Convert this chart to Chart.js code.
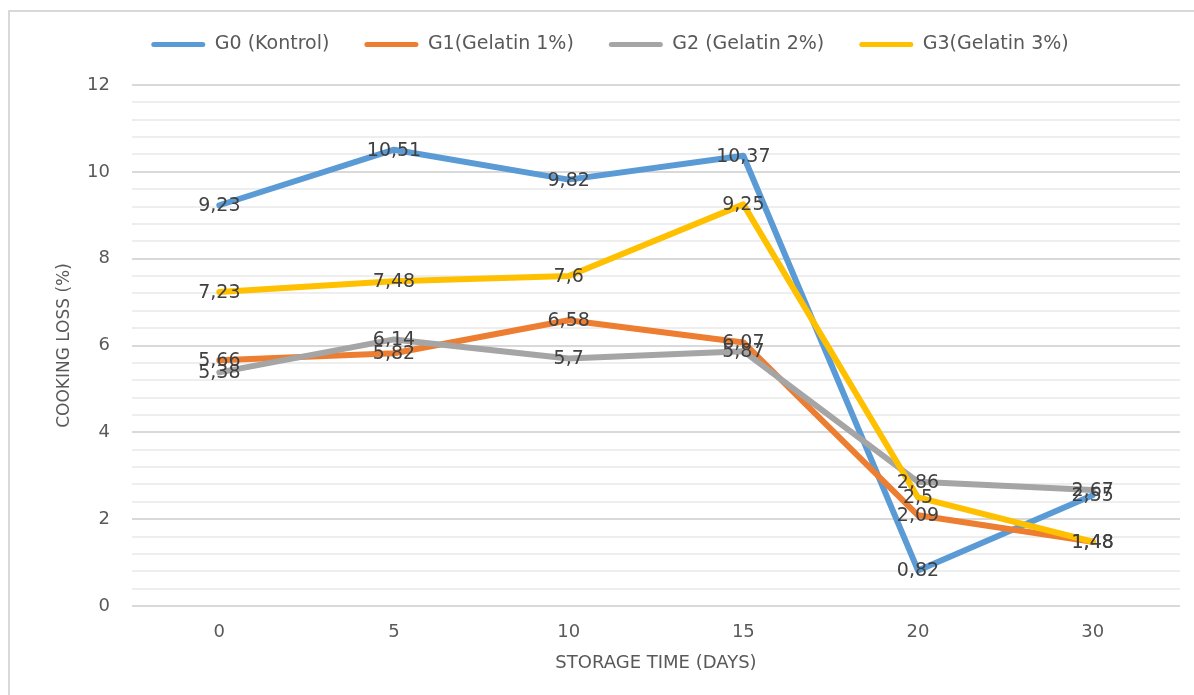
<!DOCTYPE html>
<html>
<head>
<meta charset="utf-8">
<title>Cooking loss during storage</title>
<script src="https://cdn.jsdelivr.net/npm/chart.js@4.4.1/dist/chart.umd.min.js"></script>
<style>
  html, body { margin: 0; padding: 0; background: #ffffff; overflow: hidden; }
  #wrap { position: relative; width: 1194px; height: 695px; }
  #frame {
    position: absolute; left: 8px; top: 10px; width: 1300px; height: 800px;
    border-left: 2px solid #d9d9d9; border-top: 2px solid #d9d9d9;
  }
  canvas { position: absolute; left: 0; top: 0; }
</style>
</head>
<body>
<div id="wrap">
  <div id="frame"></div>
  <canvas id="chart" width="1194" height="695"></canvas>
</div>
<script>
// Storage days (category axis)
const storageDays = ['0', '5', '10', '15', '20', '30'];

// Series names
const seriesNames = ['G0 (Kontrol)', 'G1(Gelatin 1%)', 'G2 (Gelatin 2%)', 'G3(Gelatin 3%)'];

// Cooking loss (%) per treatment
const g0Kontrol = [9.23, 10.51, 9.82, 10.37, 0.82, 2.55];
const g1Gelatin1 = [5.66, 5.82, 6.58, 6.07, 2.09, 1.48];
const g2Gelatin2 = [5.38, 6.14, 5.70, 5.87, 2.86, 2.67];
const g3Gelatin3 = [7.23, 7.48, 7.60, 9.25, 2.50, 1.48];

// Labelled y-axis ticks; each interval is split into 5 minor gridlines
const yMajorTicks = [0, 2, 4, 6, 8, 10, 12];
const minorPerMajor = 5;

const seriesColors = ['#5B9BD5', '#ED7D31', '#A5A5A5', '#FFC000'];

const FONT = '"DejaVu Sans", "Open Sans", sans-serif';
const AXIS_GREY = '#595959';

const yGridValues = [];
for (let i = 0; i < yMajorTicks.length; i++) {
  yGridValues.push(yMajorTicks[i]);
  if (i < yMajorTicks.length - 1) {
    const step = (yMajorTicks[i + 1] - yMajorTicks[i]) / minorPerMajor;
    for (let k = 1; k < minorPerMajor; k++) {
      yGridValues.push(Math.round((yMajorTicks[i] + k * step) * 1000) / 1000);
    }
  }
}
const isMajor = v => yMajorTicks.some(m => Math.abs(m - v) < 1e-6);

const seriesValues = [g0Kontrol, g1Gelatin1, g2Gelatin2, g3Gelatin3];

const datasets = seriesValues.map((vals, i) => ({
  label: seriesNames[i],
  data: vals,
  borderColor: seriesColors[i],
  backgroundColor: seriesColors[i],
  borderWidth: 6,
  borderCapStyle: 'round',
  borderJoinStyle: 'round',
  pointRadius: 0,
  pointHoverRadius: 0,
  tension: 0,
  fill: false,
  // later series are painted over earlier ones
  order: seriesValues.length - 1 - i
}));

// Value labels centred on every point, comma as decimal separator
const valueLabels = {
  id: 'valueLabels',
  afterDatasetsDraw(chart) {
    const ctx = chart.ctx;
    ctx.save();
    ctx.font = '19px ' + FONT;
    ctx.fillStyle = '#404040';
    ctx.textAlign = 'center';
    ctx.textBaseline = 'middle';
    chart.data.datasets.forEach((ds, i) => {
      const meta = chart.getDatasetMeta(i);
      meta.data.forEach((pt, j) => {
        const txt = String(ds.data[j]).replace('.', ',');
        ctx.fillText(txt, pt.x, pt.y + 1);
      });
    });
    ctx.restore();
  }
};

// Reserve room between the legend row and the plot
const legendSpace = {
  id: 'legendSpace',
  beforeInit(chart) {
    const lg = chart.legend;
    if (!lg) return;
    const fit = lg.fit;
    lg.fit = function () {
      fit.call(this);
      this.height = 85;
    };
  }
};

new Chart(document.getElementById('chart'), {
  type: 'line',
  data: { labels: storageDays, datasets },
  options: {
    responsive: false,
    animation: false,
    devicePixelRatio: 1,
    layout: { padding: { left: 40, right: 14, top: 0, bottom: 0 } },
    plugins: {
      tooltip: { enabled: false },
      legend: {
        display: true,
        position: 'top',
        labels: {
          boxWidth: 54,
          boxHeight: 5,
          padding: 35,
          color: AXIS_GREY,
          font: { family: FONT, size: 19 },
          generateLabels(chart) {
            return chart.data.datasets.map((ds, i) => ({
              text: ds.label,
              fillStyle: ds.borderColor,
              strokeStyle: ds.borderColor,
              lineWidth: 0,
              borderRadius: 2.5,
              fontColor: AXIS_GREY,
              hidden: false,
              datasetIndex: i
            }));
          }
        }
      }
    },
    scales: {
      x: {
        offset: true,
        grid: { display: false, drawTicks: false },
        border: { display: false },
        ticks: { color: AXIS_GREY, font: { family: FONT, size: 18 }, padding: 16 },
        title: {
          display: true,
          text: 'STORAGE TIME (DAYS)',
          color: AXIS_GREY,
          font: { family: FONT, size: 18 },
          padding: { top: 0, bottom: 21 }
        },
        afterFit(scale) { scale.height = 89; }
      },
      y: {
        min: 0,
        max: 12,
        afterBuildTicks(scale) {
          scale.ticks = yGridValues.map(v => ({ value: v }));
        },
        ticks: {
          autoSkip: false,
          padding: 22,
          color: AXIS_GREY,
          font: { family: FONT, size: 18 },
          callback: v => (isMajor(v) ? String(Math.round(v)) : '')
        },
        grid: {
          drawTicks: false,
          lineWidth: 2,
          color: c => (c.tick && isMajor(c.tick.value) ? '#d9d9d9' : '#eeeeee')
        },
        border: { display: false },
        title: {
          display: true,
          text: 'COOKING LOSS (%)',
          color: AXIS_GREY,
          font: { family: FONT, size: 17 },
          padding: { top: 14, bottom: 0 }
        },
        afterFit(scale) { scale.width = 92; }
      }
    }
  },
  plugins: [legendSpace, valueLabels]
});
</script>
</body>
</html>
